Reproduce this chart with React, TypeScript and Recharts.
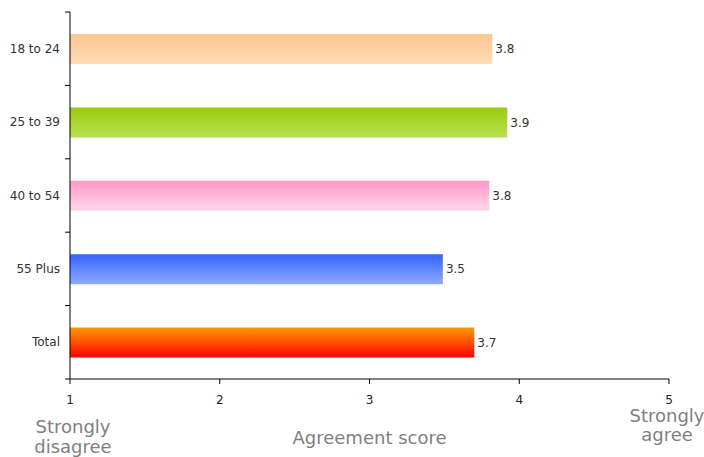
import { BarChart, Bar, XAxis, YAxis, Cell, LabelList } from "recharts";

const categories = ["18 to 24", "25 to 39", "40 to 54", "55 Plus", "Total"];
const scores = [3.82, 3.92, 3.8, 3.49, 3.7];
const xTicks = [1, 2, 3, 4, 5];

// top / bottom colour of each bar's gradient
const gradients = [
  ["#FFC690", "#FFDCB8"],
  ["#99CC0C", "#B9E052"],
  ["#FF99C8", "#FFD8EA"],
  ["#3363FF", "#8EAAFF"],
  ["#FF9900", "#FF0000"],
];

const FONT = "'DejaVu Sans', sans-serif";
const PLOT_LEFT = 70;
const PLOT_TOP = 12;
const PLOT_HEIGHT = 367;
const BAND = PLOT_HEIGHT / categories.length;

const data = categories.map((name, i) => ({ name, score: scores[i] }));

const CategoryTick = ({ y, payload, index }: any) => {
  const top = y - BAND / 2;
  const bottom = y + BAND / 2;
  return (
    <g>
      <line x1={PLOT_LEFT - 5} x2={PLOT_LEFT} y1={top} y2={top} stroke="#000" />
      {index === categories.length - 1 && (
        <line x1={PLOT_LEFT - 5} x2={PLOT_LEFT} y1={bottom} y2={bottom} stroke="#000" />
      )}
      <text x={60} y={y} dy={4} textAnchor="end" fontSize={12} fill="#333" fontFamily={FONT}>
        {payload.value}
      </text>
    </g>
  );
};

const Captions = ({ viewBox }: any) => {
  const { x, y, width } = viewBox;
  const style = { fontSize: 18, fill: "#7f7f7f", fontFamily: FONT };
  return (
    <g>
      <text x={x + 3} y={y + 54} textAnchor="middle" {...style}>Strongly</text>
      <text x={x + 3} y={y + 74} textAnchor="middle" {...style}>disagree</text>
      <text x={x + width / 2} y={y + 65} textAnchor="middle" {...style}>Agreement score</text>
      <text x={x + width - 2} y={y + 43} textAnchor="middle" {...style}>Strongly</text>
      <text x={x + width - 2} y={y + 62} textAnchor="middle" {...style}>agree</text>
    </g>
  );
};

const App = () => {
  return (
    <div style={{ position: "absolute", left: 0, top: 0, background: "#fff" }}>
      <BarChart
        width={704}
        height={457}
        data={data}
        layout="vertical"
        margin={{ top: PLOT_TOP, right: 35, bottom: 0, left: 8 }}
      >
        <defs>
          {gradients.map(([a, b], i) => (
            <linearGradient key={`g-${i}`} id={`grad${i}`} x1="0" y1="0" x2="0" y2="1">
              <stop offset="0%" stopColor={a} />
              <stop offset="100%" stopColor={b} />
            </linearGradient>
          ))}
        </defs>
        <XAxis
          type="number"
          domain={[1, 5]}
          ticks={xTicks}
          height={78}
          axisLine={{ stroke: "#000" }}
          tickLine={{ stroke: "#000" }}
          tickSize={5}
          tickMargin={11}
          tick={{ fontSize: 12, fill: "#222", fontFamily: FONT }}
          label={<Captions />}
        />
        <YAxis
          type="category"
          dataKey="name"
          width={62}
          axisLine={{ stroke: "#000" }}
          tickLine={false}
          tick={<CategoryTick />}
        />
        <Bar dataKey="score" barSize={30} isAnimationActive={false}>
          {data.map((entry, index) => (
            <Cell key={`cell-${index}`} fill={`url(#grad${index})`} />
          ))}
          <LabelList
            dataKey="score"
            position="right"
            offset={3}
            formatter={(v: any) => Number(v).toFixed(1)}
            style={{ fontSize: 12, fill: "#333", fontFamily: FONT }}
          />
        </Bar>
      </BarChart>
    </div>
  );
};

export default App;
